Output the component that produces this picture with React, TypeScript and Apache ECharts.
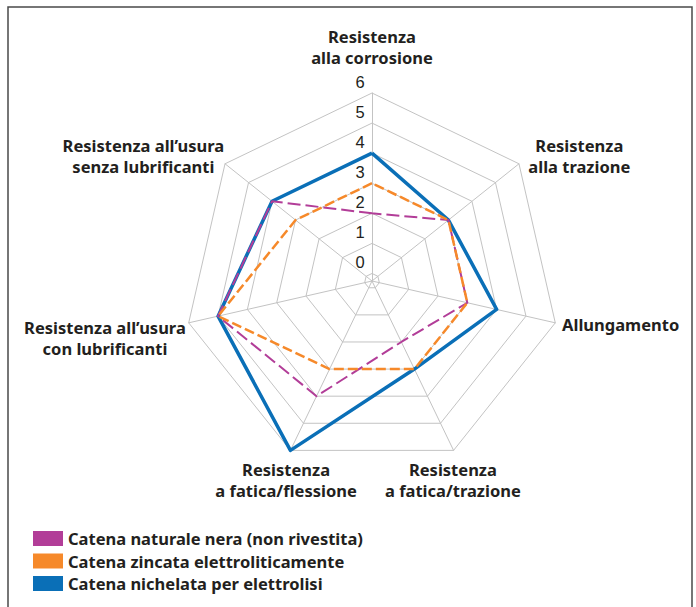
import React, { useEffect, useRef } from 'react';
import * as echarts from 'echarts';

// ---- data (clockwise from the top axis) ----
const CATEGORIES = [
  'Resistenza\nalla corrosione',
  'Resistenza\nalla trazione',
  'Allungamento',
  'Resistenza\na fatica/trazione',
  'Resistenza\na fatica/flessione',
  'Resistenza all’usura\ncon lubrificanti',
  'Resistenza all’usura\nsenza lubrificanti',
];
const SERIES_NAMES = [
  'Catena naturale nera (non rivestita)',
  'Catena zincata elettroliticamente',
  'Catena nichelata per elettrolisi',
];
const NERA = [2, 3, 3, 2, 4, 5, 4];
const ZINCATA = [3, 3, 3, 3, 3, 5, 3];
const NICHELATA = [4, 3, 4, 3, 6, 5, 4];
const TICKS = [0, 1, 2, 3, 4, 5, 6];
const AXIS_MIN = -0.25;
const AXIS_MAX = 6;

// ---- styles ----
const COLORS = { nera: '#b23d98', zincata: '#f6892a', nichelata: '#0a6fb7' };
const TEXT = '#231f20';
const GRID = '#c3c3c3';
const FONT = "'Noto Sans', sans-serif";
// name placement per axis (clockwise order)
const NAME_LAYOUT: any[] = [
  { gap: 25, align: 'center', verticalAlign: 'bottom' },
  { gap: 12, align: 'left', verticalAlign: 'middle' },
  { gap: 7, align: 'left', verticalAlign: 'middle' },
  { gap: 10, align: 'center', verticalAlign: 'top', padding: [0, 10, 0, 0] },
  { gap: 10, align: 'center', verticalAlign: 'top' },
  { gap: 3, align: 'right', verticalAlign: 'middle', padding: [28, 0, 0, 0] },
  { gap: 1, align: 'right', verticalAlign: 'middle', padding: [0, 0, 14, 0] },
];
// ECharts places indicators counter-clockwise; reorder to get the clockwise layout
const ORDER = [0, 6, 5, 4, 3, 2, 1];
const reorder = (arr: any[]) => ORDER.map((i) => arr[i]);

function buildOption() {
  const indicator = reorder(
    CATEGORIES.map((name, i) => ({
      name,
      min: AXIS_MIN,
      max: AXIS_MAX,
      nameGap: NAME_LAYOUT[i].gap,
      nameTextStyle: {
        align: NAME_LAYOUT[i].align,
        verticalAlign: NAME_LAYOUT[i].verticalAlign,
        padding: NAME_LAYOUT[i].padding || 0,
      },
    }))
  );

  const ringSeries = TICKS.map((t) => ({
    type: 'radar',
    name: 'ring' + t,
    silent: true,
    z: 1,
    symbol: 'circle',
    symbolSize: 1,
    itemStyle: { color: 'transparent' },
    lineStyle: { color: GRID, width: 1, type: 'solid' },
    label: {
      show: true,
      position: 'inside',
      offset: [-12, -11],
      color: TEXT,
      fontFamily: "'Liberation Sans', Arial, sans-serif",
      fontSize: 16.5,
      formatter: (p: any) => (p.dimensionIndex === 0 ? String(t) : ''),
    },
    data: [{ value: CATEGORIES.map(() => t), name: 'ring' + t }],
  }));

  const dataSeries = [
    { name: SERIES_NAMES[2], values: NICHELATA, color: COLORS.nichelata, width: 3.5, type: 'solid' as any },
    { name: SERIES_NAMES[0], values: NERA, color: COLORS.nera, width: 2, type: [13, 5] as any },
    { name: SERIES_NAMES[1], values: ZINCATA, color: COLORS.zincata, width: 2.5, type: [10, 4] as any },
  ].map((s, i) => ({
    type: 'radar',
    name: s.name,
    z: 2 + i,
    symbol: 'none',
    color: s.color,
    itemStyle: { color: s.color },
    lineStyle: { color: s.color, width: s.width, type: s.type },
    data: [{ value: reorder(s.values), name: s.name }],
  }));

  return {
    animation: false,
    backgroundColor: '#ffffff',
    graphic: [
      {
        type: 'rect',
        silent: true,
        z: -10,
        shape: { x: 8, y: 7, width: 684, height: 640 },
        style: { fill: 'none', stroke: '#4a4a4a', lineWidth: 1.5 },
      },
    ],
    legend: {
      data: SERIES_NAMES,
      orient: 'vertical',
      left: 33,
      top: 530,
      padding: 0,
      icon: 'rect',
      itemWidth: 30,
      itemHeight: 15,
      itemGap: 5.5,
      selectedMode: false,
      textStyle: { color: TEXT, fontFamily: FONT, fontSize: 16.5, fontWeight: 'bold' },
    },
    radar: {
      center: [372, 281],
      radius: 188,
      startAngle: 90,
      shape: 'polygon',
      indicator,
      splitNumber: 5,
      axisName: {
        color: TEXT,
        fontFamily: FONT,
        fontSize: 16.5,
        fontWeight: 'bold',
        lineHeight: 21,
        formatter: (name: string) =>
          name.split('\n').map((l) => '{c|' + l + '}').join('\n'),
        rich: {
          c: {
            align: 'center',
            color: TEXT,
            fontFamily: FONT,
            fontSize: 16.5,
            fontWeight: 'bold',
            lineHeight: 21,
          },
        },
      },
      axisLine: { show: true, lineStyle: { color: GRID, width: 1 } },
      axisTick: { show: false },
      axisLabel: { show: false },
      splitLine: { show: false },
      splitArea: { show: false },
    },
    series: [...ringSeries, ...dataSeries],
  };
}

export default function App() {
  const ref = useRef<HTMLDivElement>(null);
  useEffect(() => {
    const chart = echarts.init(ref.current!, null, { renderer: 'svg' });
    chart.setOption(buildOption() as any);
    return () => chart.dispose();
  }, []);
  return (
    <div
      ref={ref}
      style={{ position: 'absolute', left: 0, top: 0, width: 696, height: 607, background: '#fff' }}
    />
  );
}
